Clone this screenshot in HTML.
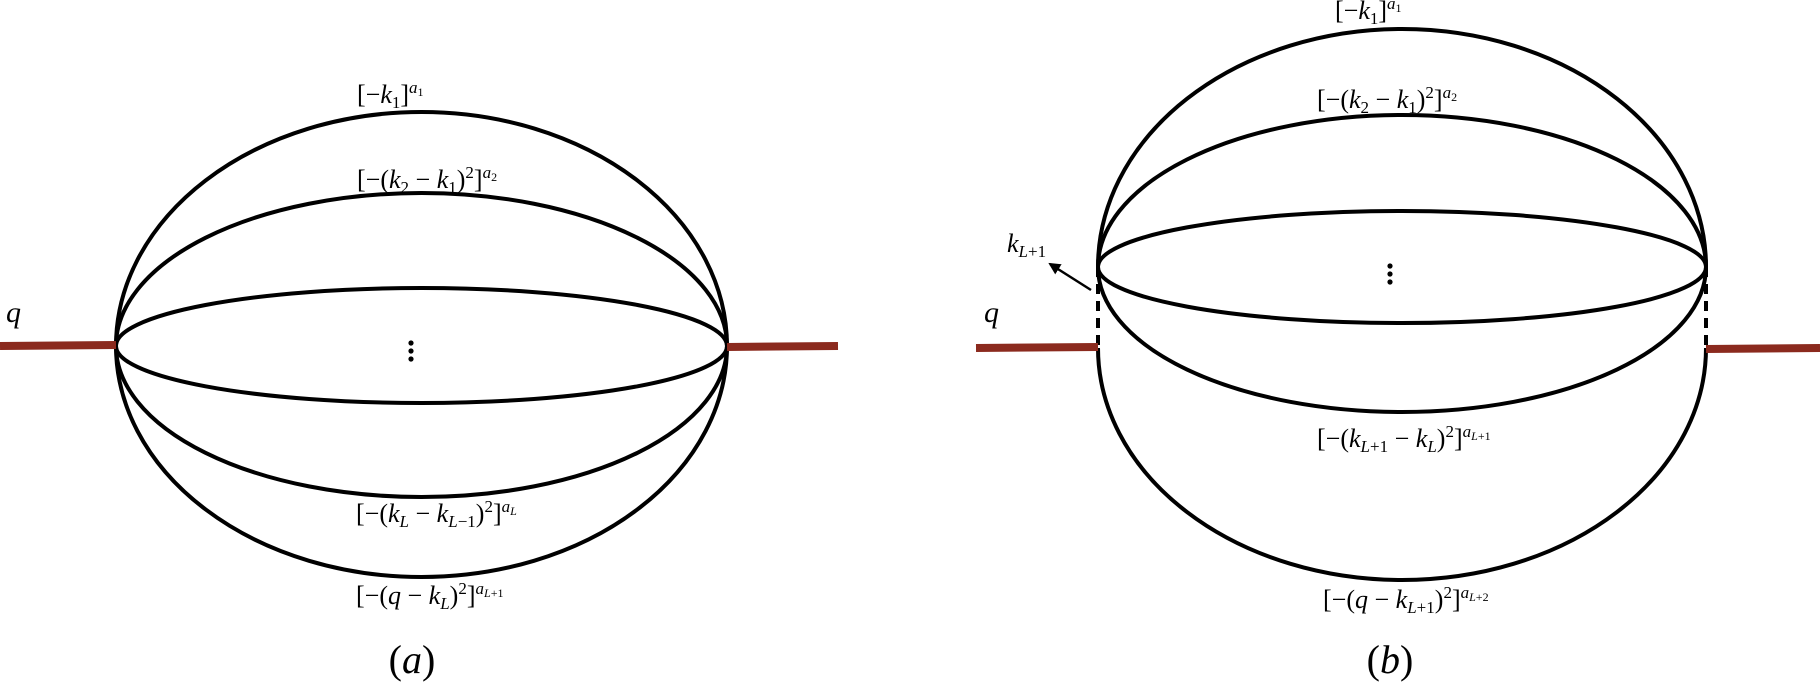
<!DOCTYPE html>
<html><head><meta charset="utf-8"><style>
html,body{margin:0;padding:0;background:#fff;}
svg{display:block;}
text{font-family:"Liberation Serif",serif;font-size:26px;fill:#000;}
.i{font-style:italic;}
.s{font-size:17px;}
.si{font-size:17px;font-style:italic;}
.ss{font-size:12px;}
</style></head><body>
<svg width="1820" height="691" viewBox="0 0 1820 691" xmlns="http://www.w3.org/2000/svg">
<defs><marker id="ah" markerWidth="12" markerHeight="12" refX="10" refY="6" orient="auto" markerUnits="userSpaceOnUse"><path d="M0,0 L12,6 L0,12 z" fill="#000"/></marker></defs>
<g fill="none" stroke="#000" stroke-width="4">
<path d="M116,346 A305.5,234 0 0 1 727,346"/>
<path d="M116,346 A305.5,231 0 0 0 727,346"/>
<path d="M116,346 A305.5,153 0 0 1 727,346"/>
<path d="M116,346 A305.5,151 0 0 0 727,346"/>
<path d="M116,346 A305.5,58 0 0 1 727,346"/>
<path d="M116,346 A305.5,57 0 0 0 727,346"/>
<path d="M1098,267 A304,238 0 0 1 1706,267"/>
<path d="M1098,267 A304,152 0 0 1 1706,267"/>
<path d="M1098,267 A304,145 0 0 0 1706,267"/>
<path d="M1098,267 A304,56 0 0 1 1706,267"/>
<path d="M1098,267 A304,56 0 0 0 1706,267"/>
<path d="M1098,348 A304,232 0 0 0 1706,348"/>
<path d="M1098,267 L1098,348 M1706,267 L1706,348" stroke-dasharray="10,7"/>
<path d="M1091,290 L1050,264" stroke-width="2.5" marker-end="url(#ah)"/>
</g>
<g stroke="#8b2a1e" stroke-width="8">
<path d="M0,346 L116,345"/><path d="M727,347 L838,346"/>
<path d="M976,348 L1098,347"/><path d="M1706,349 L1820,348"/>
</g>
<g fill="#000"><circle cx="411" cy="343" r="2.6"/><circle cx="411" cy="351" r="2.6"/><circle cx="411" cy="359" r="2.6"/>
<circle cx="1390" cy="266" r="2.6"/><circle cx="1390" cy="274" r="2.6"/><circle cx="1390" cy="282" r="2.6"/></g>
<text x="6" y="322" class="i" style="font-size:30px">q</text>
<text x="984" y="322" class="i" style="font-size:30px">q</text>
<text x="1007" y="252"><tspan class="i">k</tspan><tspan class="si" dy="5">L</tspan><tspan class="s">+1</tspan></text>
<text x="357" y="103">[−<tspan class="i">k</tspan><tspan class="s" dy="5">1</tspan><tspan dy="-5">]</tspan><tspan class="si" dy="-10">a</tspan><tspan class="ss" dy="3">1</tspan></text>
<text x="357" y="188">[−(<tspan class="i">k</tspan><tspan class="s" dy="5">2</tspan><tspan dy="-5"> − </tspan><tspan class="i">k</tspan><tspan class="s" dy="5">1</tspan><tspan dy="-5">)</tspan><tspan class="s" dy="-10">2</tspan><tspan dy="10">]</tspan><tspan class="si" dy="-10">a</tspan><tspan class="ss" dy="3">2</tspan></text>
<text x="356" y="522">[−(<tspan class="i">k</tspan><tspan class="si" dy="5">L</tspan><tspan dy="-5"> − </tspan><tspan class="i">k</tspan><tspan class="si" dy="5">L</tspan><tspan class="s">−1</tspan><tspan dy="-5">)</tspan><tspan class="s" dy="-10">2</tspan><tspan dy="10">]</tspan><tspan class="si" dy="-10">a</tspan><tspan class="ss" dy="3" font-style="italic">L</tspan></text>
<text x="356" y="604">[−(<tspan class="i">q</tspan> − <tspan class="i">k</tspan><tspan class="si" dy="5">L</tspan><tspan dy="-5">)</tspan><tspan class="s" dy="-10">2</tspan><tspan dy="10">]</tspan><tspan class="si" dy="-10">a</tspan><tspan class="ss" dy="3" font-style="italic">L</tspan><tspan class="ss">+1</tspan></text>
<text x="412" y="673" text-anchor="middle" style="font-size:40px">(<tspan class="i">a</tspan>)</text>
<text x="1335" y="19">[−<tspan class="i">k</tspan><tspan class="s" dy="5">1</tspan><tspan dy="-5">]</tspan><tspan class="si" dy="-10">a</tspan><tspan class="ss" dy="3">1</tspan></text>
<text x="1317" y="108">[−(<tspan class="i">k</tspan><tspan class="s" dy="5">2</tspan><tspan dy="-5"> − </tspan><tspan class="i">k</tspan><tspan class="s" dy="5">1</tspan><tspan dy="-5">)</tspan><tspan class="s" dy="-10">2</tspan><tspan dy="10">]</tspan><tspan class="si" dy="-10">a</tspan><tspan class="ss" dy="3">2</tspan></text>
<text x="1317" y="447">[−(<tspan class="i">k</tspan><tspan class="si" dy="5">L</tspan><tspan class="s">+1</tspan><tspan dy="-5"> − </tspan><tspan class="i">k</tspan><tspan class="si" dy="5">L</tspan><tspan dy="-5">)</tspan><tspan class="s" dy="-10">2</tspan><tspan dy="10">]</tspan><tspan class="si" dy="-10">a</tspan><tspan class="ss" dy="3" font-style="italic">L</tspan><tspan class="ss">+1</tspan></text>
<text x="1323" y="608">[−(<tspan class="i">q</tspan> − <tspan class="i">k</tspan><tspan class="si" dy="5">L</tspan><tspan class="s">+1</tspan><tspan dy="-5">)</tspan><tspan class="s" dy="-10">2</tspan><tspan dy="10">]</tspan><tspan class="si" dy="-10">a</tspan><tspan class="ss" dy="3" font-style="italic">L</tspan><tspan class="ss">+2</tspan></text>
<text x="1390" y="673" text-anchor="middle" style="font-size:40px">(<tspan class="i">b</tspan>)</text>
</svg>
</body></html>
